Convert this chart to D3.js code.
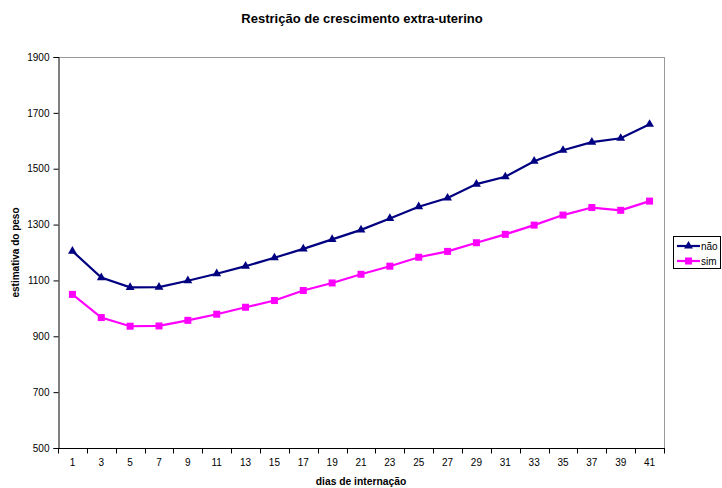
<!DOCTYPE html>
<html>
<head>
<meta charset="utf-8">
<script src="https://cdn.jsdelivr.net/npm/d3@7"></script>
<style>
  html, body { margin: 0; padding: 0; background: #fff; }
  svg { display: block; font-family: "Liberation Sans", Arial, sans-serif; }
</style>
</head>
<body>
<svg id="chart" width="722" height="488"></svg>
<script>
// Days of hospital stay (odd days 1..41)
const days = ["1","3","5","7","9","11","13","15","17","19","21","23","25","27","29","31","33","35","37","39","41"];
// Estimated weight, group without extra-uterine growth restriction
const naoValues = [1205,1110,1075,1076,1099,1124,1151,1181,1213,1247,1281,1322,1364,1395,1445,1471,1527,1566,1595,1609,1659];
// Estimated weight, group with extra-uterine growth restriction
const simValues = [1050,967,936,937,957,979,1004,1028,1064,1091,1122,1151,1183,1204,1235,1265,1298,1334,1361,1351,1384];
const yTicks = [500,700,900,1100,1300,1500,1700,1900];

const series = [
  { name: "não", values: naoValues, color: "#000080", marker: "triangle" },
  { name: "sim", values: simValues, color: "#FF00FF", marker: "square" }
];

const svg = d3.select("#chart");
const plot = { left: 58, top: 57, right: 664, bottom: 448 };

const x = d3.scaleBand().domain(days).range([plot.left, plot.right]);
const y = d3.scaleLinear().domain([500, 1900]).range([plot.bottom, plot.top]);

// Title
svg.append("text")
  .attr("x", 362).attr("y", 23)
  .attr("text-anchor", "middle")
  .attr("font-size", 13).attr("font-weight", "bold")
  .text("Restrição de crescimento extra-uterino");

// Plot frame: grey top and right edges
svg.append("line")
  .attr("x1", plot.left).attr("x2", plot.right)
  .attr("y1", plot.top + 0.5).attr("y2", plot.top + 0.5)
  .attr("stroke", "#999").attr("stroke-width", 1);
svg.append("line")
  .attr("x1", plot.right + 0.5).attr("x2", plot.right + 0.5)
  .attr("y1", plot.top).attr("y2", plot.bottom)
  .attr("stroke", "#999").attr("stroke-width", 1);

// Y axis
const yAxis = svg.append("g")
  .attr("transform", `translate(${plot.left + 0.5},0)`)
  .call(d3.axisLeft(y).tickValues(yTicks).tickSize(5).tickPadding(4).tickFormat(d3.format("d")));
yAxis.select(".domain").attr("stroke", "#000");
yAxis.selectAll(".tick line").attr("stroke", "#000");
yAxis.selectAll(".tick text").attr("font-size", 10).attr("fill", "#000")
  .attr("font-family", "Liberation Sans, Arial, sans-serif");

// X axis: ticks sit at category boundaries, labels at category centres
const xAxis = svg.append("g")
  .attr("transform", `translate(0,${plot.bottom + 0.5})`);
xAxis.append("line")
  .attr("x1", plot.left).attr("x2", plot.right + 1)
  .attr("stroke", "#000");
const boundaries = d3.range(days.length + 1).map(i => plot.left + i * x.bandwidth());
xAxis.selectAll("line.tk").data(boundaries).join("line")
  .attr("class", "tk")
  .attr("x1", d => Math.round(d) + 0.5).attr("x2", d => Math.round(d) + 0.5)
  .attr("y1", 0).attr("y2", 5)
  .attr("stroke", "#000");
xAxis.selectAll("text").data(days).join("text")
  .attr("x", d => x(d) + x.bandwidth() / 2)
  .attr("y", 17)
  .attr("text-anchor", "middle")
  .attr("font-size", 10)
  .text(d => d);

// Axis titles
svg.append("text")
  .attr("x", 361).attr("y", 485)
  .attr("text-anchor", "middle")
  .attr("font-size", 10.3).attr("font-weight", "bold")
  .text("dias de internação");
svg.append("text")
  .attr("transform", `translate(19,${(plot.top + plot.bottom) / 2}) rotate(-90)`)
  .attr("text-anchor", "middle")
  .attr("font-size", 10).attr("font-weight", "bold")
  .text("estimativa do peso");

const cx = d => x(d) + x.bandwidth() / 2;
const line = d3.line().x(d => cx(d.day)).y(d => y(d.value));
const triangle = d3.symbol().type(d3.symbolTriangle).size(34);

function drawMarker(sel, s) {
  if (s.marker === "triangle") {
    sel.append("path").attr("d", triangle).attr("fill", s.color);
  } else {
    sel.append("rect").attr("x", -3.5).attr("y", -3.5).attr("width", 7).attr("height", 7)
      .attr("fill", s.color);
  }
}

series.forEach(s => {
  const pts = days.map((d, i) => ({ day: d, value: s.values[i] }));
  svg.append("path")
    .datum(pts)
    .attr("d", line)
    .attr("fill", "none")
    .attr("stroke", s.color)
    .attr("stroke-width", 2.2);
  pts.forEach(p => {
    const g = svg.append("g").attr("transform", `translate(${cx(p.day)},${y(p.value)})`);
    drawMarker(g, s);
  });
});

// Legend
const legend = svg.append("g");
legend.append("rect")
  .attr("x", 673.5).attr("y", 236.5).attr("width", 47).attr("height", 32)
  .attr("fill", "#fff").attr("stroke", "#000").attr("stroke-width", 1);
series.forEach((s, i) => {
  const ly = 246 + i * 15;
  legend.append("line")
    .attr("x1", 677).attr("x2", 700).attr("y1", ly).attr("y2", ly)
    .attr("stroke", s.color).attr("stroke-width", 2.2);
  const g = legend.append("g").attr("transform", `translate(688.5,${ly})`);
  drawMarker(g, s);
  legend.append("text")
    .attr("x", 701).attr("y", ly + 3.5)
    .attr("font-size", 10)
    .text(s.name);
});
</script>
</body>
</html>
